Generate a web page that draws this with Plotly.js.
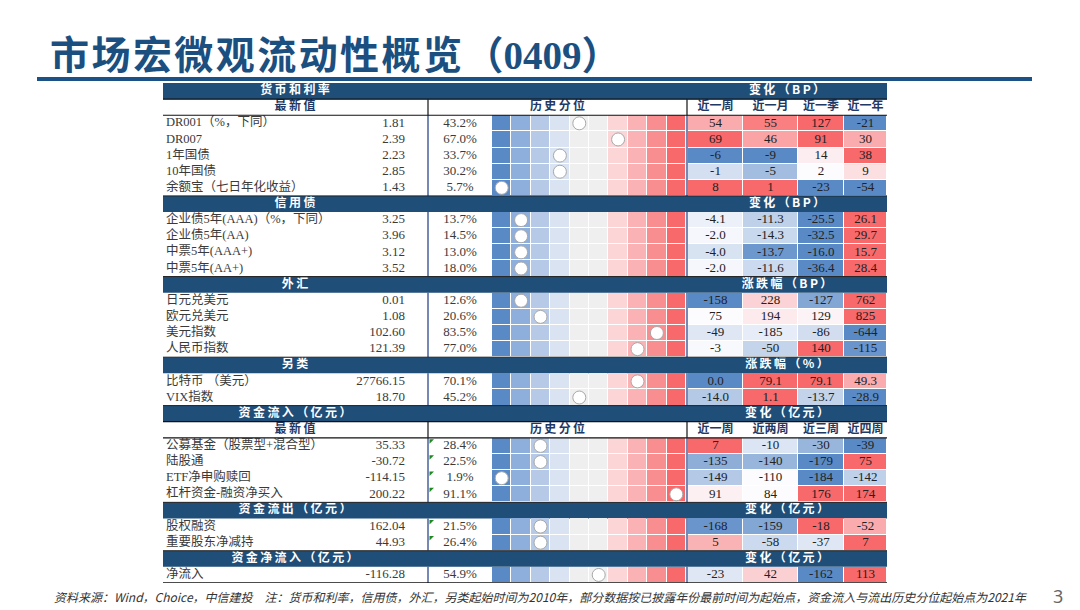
<!DOCTYPE html>
<html><head><meta charset="utf-8">
<script src="https://cdn.plot.ly/plotly-3.0.1.min.js"></script>
<style>html,body{margin:0;padding:0;background:#fff;}#chart{width:1080px;height:610px;}</style>
</head><body><div id="chart"></div>
<script>
// ================= DATA =================
const sectionTitles = ['货币和利率','信用债','外汇','另类','资金流入（亿元）','资金流出（亿元）','资金净流入（亿元）'];
const changeTitles  = ['变化（BP）','变化（BP）','涨跌幅（BP）','涨跌幅（%）','变化（亿元）','变化（亿元）','变化（亿元）'];
const sectionSizes  = [5,4,4,2,4,2,1];
const sectionHasSubHeader = [true,false,false,false,true,false,false];
const sectionDecimals = [0,1,0,1,0,0,0];
const sectionFlagged  = [false,false,false,false,true,true,false];
const periodLabelsRate = ['近一周','近一月','近一季','近一年'];
const periodLabelsFlow = ['近一周','近两周','近三周','近四周'];
const subHeaderLeft = '最新值';
const subHeaderMid = '历史分位';

const names = ['DR001（%，下同）','DR007','1年国债','10年国债','余额宝（七日年化收益）',
  '企业债5年(AAA)（%，下同）','企业债5年(AA)','中票5年(AAA+)','中票5年(AA+)',
  '日元兑美元','欧元兑美元','美元指数','人民币指数',
  '比特币 （美元）','VIX指数',
  '公募基金（股票型+混合型）','陆股通','ETF净申购赎回','杠杆资金-融资净买入',
  '股权融资','重要股东净减持',
  '净流入'];
const latest = [1.81,2.39,2.23,2.85,1.43, 3.25,3.96,3.12,3.52, 0.01,1.08,102.60,121.39, 27766.15,18.70, 35.33,-30.72,-114.15,200.22, 162.04,44.93, -116.28];
const percentile = [43.2,67.0,33.7,30.2,5.7, 13.7,14.5,13.0,18.0, 12.6,20.6,83.5,77.0, 70.1,45.2, 28.4,22.5,1.9,91.1, 21.5,26.4, 54.9];

const chg1 = [54,69,-6,-1,8, -4.1,-2.0,-4.0,-2.0, -158,75,-49,-3, 0.0,-14.0, 7,-135,-149,91, -168,5, -23];
const chg2 = [55,46,-9,-5,1, -11.3,-14.3,-13.7,-11.6, 228,194,-185,-50, 79.1,1.1, -10,-140,-110,84, -159,-58, 42];
const chg3 = [127,91,14,2,-23, -25.5,-32.5,-16.0,-36.4, -127,129,-86,140, 79.1,-13.7, -30,-179,-184,176, -18,-37, -162];
const chg4 = [-21,30,38,9,-54, 26.1,29.7,15.7,28.4, 762,825,-644,-115, 49.3,-28.9, -39,75,-142,174, -52,7, 113];

// colour score of each change cell (-1 blue … 0 white … 1 red)
const heat1 = [0.55,1,-1,-0.25,1, -0.1,-0.04,-0.22,-0.04, -1,0,-0.18,-0.03, -1,-0.45, 1,-0.68,-0.45,0.08, -0.9,0.5, -0.18];
const heat2 = [0.85,0.6,-1,-0.55,1, -0.38,-0.32,-0.88,-0.3, 0.28,0.12,-0.13,-0.35, 1,1, -0.2,-0.62,0,0, -0.75,-0.3, 0.3];
const heat3 = [1,1,0.1,0,-1, -1,-1,-1,-1, -0.75,0.06,-0.26,1, 1,-0.36, -0.62,-1,-1,1, 1,-0.18, -1];
const heat4 = [-1,0.55,1,0.2,-1, 1,1,1,1, 1,1,-1,-0.9, 0.55,-1, -1,1,-0.38,1, 0.55,1, 1];

const stripLevels = [0,1,2,3,4,5,6,7,8,9];

// ================= LAYOUT CONSTANTS =================
const X_LEFT=163, X_RIGHT=887, X_NAME=166, X_VALUE=405, X_DIV1=428, X_PCT=460;
const STRIP0=492, STRIP_W=19.4, X_DIV2=687;
const CHG_EDGES=[688,743,798,844,887];
const TOP=83, BOT=583, H=610;
const py = px => (BOT - px)/(BOT-TOP);

// ================= BUILD ROWS =================
const rowOfItem=[], itemSection=[], headerRows=[], subRows=[], secRanges=[];
let r=0;
sectionSizes.forEach((n,s)=>{
  headerRows.push(r); r++;
  if(sectionHasSubHeader[s]){ subRows.push({row:r,sec:s}); r++; }
  const start=r;
  for(let k=0;k<n;k++){ rowOfItem.push(r); itemSection.push(s); r++; }
  secRanges.push([start,r-1]);
});
const NROWS=r;
const rowsY=[...Array(NROWS).keys()];

const stripZ = rowsY.map(()=>stripLevels.map(()=>null));
const chgZ = rowsY.map(()=>[null,null,null,null]);
const heats=[heat1,heat2,heat3,heat4];
rowOfItem.forEach((row,i)=>{
  stripZ[row]=stripLevels.slice();
  chgZ[row]=heats.map(h=>h[i]);
});
const stripEdges = [...Array(11).keys()].map(i=>STRIP0+i*STRIP_W);
const chgCenters = CHG_EDGES.slice(0,4).map((e,i)=>(e+CHG_EDGES[i+1])/2);

const traces=[];
const stripColors=['#5a8ac6','#8eaedb','#b6cae7','#d9e3f2','#efefef','#efefef','#fcd5d7','#fbb2b4','#f98e91','#f8696b'];
traces.push({type:'heatmap', x:stripEdges, y:rowsY, z:stripZ, zmin:0, zmax:9,
  colorscale: stripColors.map((c,i)=>[i/9,c]), showscale:false, xgap:1, ygap:1, hoverinfo:'skip'});
traces.push({type:'heatmap', x:CHG_EDGES, y:rowsY, z:chgZ, zmin:-1, zmax:1,
  colorscale:[[0,'#5a8ac6'],[0.5,'#fcfcff'],[1,'#f8696b']], showscale:false, xgap:1, ygap:1, hoverinfo:'skip'});

const dataFont = {family:'Liberation Serif, Noto Sans CJK SC', size:13, color:'#3a3a3a'};
traces.push({type:'scatter', mode:'text', x:names.map(()=>X_NAME), y:rowOfItem, text:names,
  textposition:'middle right', textfont:Object.assign({},dataFont,{size:12.5}), hoverinfo:'skip', cliponaxis:false});
traces.push({type:'scatter', mode:'text', x:latest.map(()=>X_VALUE), y:rowOfItem, text:latest.map(v=>v.toFixed(2)),
  textposition:'middle left', textfont:dataFont, hoverinfo:'skip', cliponaxis:false});
traces.push({type:'scatter', mode:'text', x:percentile.map(()=>X_PCT), y:rowOfItem, text:percentile.map(v=>v.toFixed(1)+'%'),
  textposition:'middle center', textfont:dataFont, hoverinfo:'skip', cliponaxis:false});
traces.push({type:'scatter', mode:'markers', x:percentile.map(p=>STRIP0+(Math.min(9,Math.floor(p/10))+0.5)*STRIP_W),
  y:rowOfItem, marker:{size:13, color:'#ffffff', line:{color:'#a8a8a8', width:1}}, hoverinfo:'skip', cliponaxis:false});
[chg1,chg2,chg3,chg4].forEach((arr,c)=>{
  traces.push({type:'scatter', mode:'text', x:arr.map(()=>chgCenters[c]), y:rowOfItem,
    text:arr.map((v,i)=>v.toFixed(sectionDecimals[itemSection[i]])),
    textposition:'middle center', textfont:Object.assign({},dataFont,{color:'#222'}), hoverinfo:'skip', cliponaxis:false});
});
const flagRows = rowOfItem.filter((row,i)=>sectionFlagged[itemSection[i]]);
traces.push({type:'scatter', mode:'markers', x:flagRows.map(()=>X_DIV1+3), y:flagRows.map(v=>v-0.32),
  marker:{symbol:'triangle-nw', size:5, color:'#1e8a1e'}, hoverinfo:'skip', cliponaxis:false});

const spaced = s => s.split('').join('\u2009');
const hdrFont = {family:'Noto Sans CJK SC, Liberation Serif', size:12, color:'#ffffff'};
traces.push({type:'scatter', mode:'text', x:headerRows.map(()=>295), y:headerRows,
  text:sectionTitles.map(t=>'<b>'+spaced(t)+'</b>'), textposition:'middle center', textfont:hdrFont, hoverinfo:'skip', cliponaxis:false});
traces.push({type:'scatter', mode:'text', x:headerRows.map(()=>(X_DIV2+X_RIGHT)/2), y:headerRows,
  text:changeTitles.map(t=>'<b>'+spaced(t)+'</b>'), textposition:'middle center', textfont:hdrFont, hoverinfo:'skip', cliponaxis:false});
const subFont = {family:'Noto Sans CJK SC', size:12, color:'#1f3864'};
subRows.forEach(sr=>{
  const labels = sr.sec===0 ? periodLabelsRate : periodLabelsFlow;
  traces.push({type:'scatter', mode:'text', x:[295,(X_DIV1+X_DIV2)/2].concat(chgCenters), y:Array(6).fill(sr.row),
    text:['<b>'+spaced(subHeaderLeft)+'</b>','<b>'+spaced(subHeaderMid)+'</b>'].concat(labels.map(l=>'<b>'+l+'</b>')),
    textposition:'middle center', textfont:subFont, hoverinfo:'skip', cliponaxis:false});
});

// ================= SHAPES =================
const shapes=[];
headerRows.forEach(row=>shapes.push({type:'rect', layer:'below', xref:'x', yref:'y', x0:X_LEFT, x1:X_RIGHT, y0:row-0.5, y1:row+0.5,
  fillcolor:'#1f4e79', line:{width:0}}));
secRanges.forEach(([a,b])=>{
  [X_DIV1,X_DIV2].forEach(x=>shapes.push({type:'line', xref:'x', yref:'y', x0:x, x1:x, y0:a-0.5, y1:b+0.5, line:{color:'#2a4a8c', width:1.3}}));
});
subRows.forEach(sr=>{
  [sr.row-0.5, sr.row+0.5].forEach(y=>shapes.push({type:'line', xref:'x', yref:'y', x0:X_LEFT, x1:X_RIGHT, y0:y, y1:y, line:{color:'#111', width:1.2}}));
  [X_DIV1,X_DIV2].forEach(x=>shapes.push({type:'line', xref:'x', yref:'y', x0:x, x1:x, y0:sr.row-0.5, y1:sr.row+0.5, line:{color:'#111', width:1.2}}));
});
headerRows.forEach(row=>{ if(row>0) shapes.push({type:'line', xref:'x', yref:'y', x0:X_LEFT, x1:X_RIGHT, y0:row-0.5, y1:row-0.5, line:{color:'#222', width:1}}); });
shapes.push({type:'line', xref:'x', yref:'y', x0:X_LEFT, x1:X_RIGHT, y0:NROWS-0.5, y1:NROWS-0.5, line:{color:'#111', width:1.5}});
shapes.push({type:'line', xref:'x', yref:'paper', x0:37, x1:1032, y0:py(79), y1:py(79), line:{color:'#1b5185', width:4}});

const titleCn = '市场宏微观流动性概览'.split('').join('\u200A');
const annotations=[
  {xref:'x', yref:'paper', x:48, y:py(52), xanchor:'left', yanchor:'middle', showarrow:false,
   text:'<b>'+titleCn+'\u200A（<span style="font-family:Liberation Serif">0409</span>）</b>',
   font:{family:'Noto Sans CJK SC', size:39, color:'#1b4f80'}},
  {xref:'x', yref:'paper', x:52, y:py(596), xanchor:'left', yanchor:'middle', showarrow:false,
   text:'资料来源：Wind，Choice，中信建投　注：货币和利率，信用债，外汇，另类起始时间为2010年，部分数据按已披露年份最前时间为起始点，资金流入与流出历史分位起始点为2021年',
   font:{family:'Noto Sans CJK SC', size:12, color:'#333', style:'italic'}},
  {xref:'x', yref:'paper', x:1058, y:py(596), xanchor:'center', yanchor:'middle', showarrow:false,
   text:'3', font:{family:'Noto Sans', size:18, color:'#666'}}
];

const layout={
  width:1080, height:610, margin:{l:0,r:0,t:TOP,b:H-BOT, pad:0},
  paper_bgcolor:'#ffffff', plot_bgcolor:'#ffffff', showlegend:false,
  xaxis:{range:[0,1080], visible:false, fixedrange:true},
  yaxis:{range:[NROWS-0.5,-0.5], visible:false, fixedrange:true},
  shapes, annotations
};
Plotly.newPlot('chart', traces, layout, {staticPlot:true, displayModeBar:false});
</script></body></html>
